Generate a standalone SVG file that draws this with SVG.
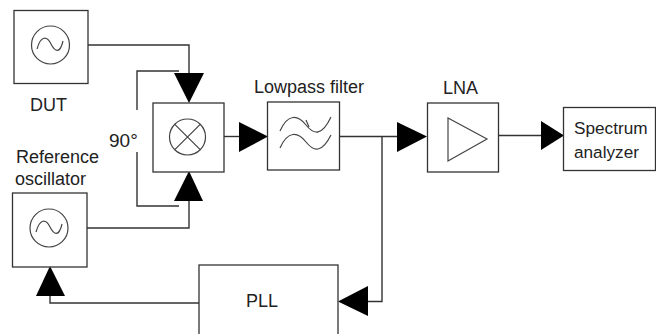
<svg xmlns="http://www.w3.org/2000/svg" width="656" height="334" viewBox="0 0 656 334">
<style>
.b{fill:#fff;stroke:#333;stroke-width:1.3}
.s{fill:none;stroke:#444;stroke-width:1.2}
.c{fill:none;stroke:#333;stroke-width:1.4}
.a{fill:#000;stroke:none}
text{font-family:"Liberation Sans",Arial,sans-serif;font-size:18px;fill:#222}
.m{font-size:17.200px}
.p{font-size:19px}
</style>
<g id="connectors">
<path class="c" d="M87 45H189V75"/>
<path class="c" d="M179 71H137V110M137 152V206H179"/>
<path class="c" d="M87 228H189V200"/>
<path class="c" d="M50 295V303H199"/>
<path class="c" d="M222 136.500H242"/>
<path class="c" d="M339 136.500H400M382 136.500V301.500H366"/>
<path class="c" d="M498 135.500H543"/>
<polygon class="a" points="174,73 204,73 189,103"/>
<polygon class="a" points="174,201 203,201 189,171"/>
<polygon class="a" points="36,296 65,296 50,266"/>
<polygon class="a" points="239,122 239,152 268,136.500"/>
<polygon class="a" points="397,122 397,152 427,136.500"/>
<polygon class="a" points="541,121 541,150 564,135.500"/>
<polygon class="a" points="338,301.500 368,286 368,316"/>
</g>
<g id="dut">
<rect class="b" x="14" y="10.500" width="74" height="73"/>
<circle class="s" cx="50.500" cy="45" r="19"/>
<path class="s" d="M37 49C41 35 47 36 51 44S60 54 63 41"/>
<text x="30" y="111">DUT</text>
</g>
<g id="mixer">
<rect class="b" x="153" y="103" width="71" height="69"/>
<circle class="s" cx="187.500" cy="137" r="18"/>
<path class="s" d="M174.800 124.300L200.200 149.700M200.200 124.300L174.800 149.700"/>
</g>
<g id="phase"><text class="p" x="109" y="147">90°</text></g>
<g id="reference">
<rect class="b" x="12.500" y="193" width="74.500" height="74"/>
<circle class="s" cx="49" cy="228" r="19"/>
<path class="s" d="M36 232C40 218 46 219 50 227S59 237 62 224"/>
<text x="16" y="163">Reference</text>
<text x="15" y="185">oscillator</text>
</g>
<g id="filter">
<rect class="b" x="267.500" y="102" width="72" height="68"/>
<path class="s" d="M280 131C288 113 298 115 306 125S322 136 331 117"/>
<path class="s" d="M280 148C288 130 298 132 306 142S322 153 331 135"/>
<path class="s" d="M306 120L309 127"/>
<text x="254" y="93">Lowpass filter</text>
</g>
<g id="lna">
<rect class="b" x="427.500" y="103" width="71" height="69"/>
<path class="s" d="M448 118V161L487 139Z"/>
<text x="443" y="94">LNA</text>
</g>
<g id="spectrum">
<rect class="b" x="563.500" y="107.500" width="92" height="63"/>
<text class="m" x="574" y="134">Spectrum</text>
<text class="m" x="574" y="158">analyzer</text>
</g>
<g id="pll">
<rect class="b" x="199" y="265" width="139" height="75"/>
<text x="246" y="307">PLL</text>
</g>
</svg>
